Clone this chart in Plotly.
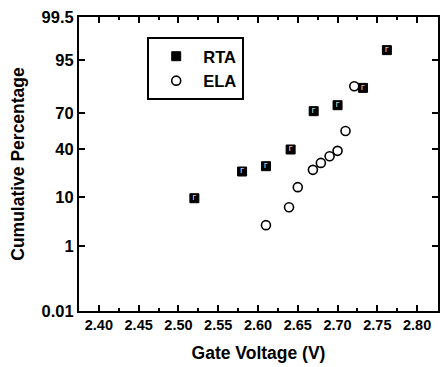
import plotly.graph_objects as go
from statistics import NormalDist

# Data
rta_v = [2.52, 2.58, 2.61, 2.641, 2.67, 2.70, 2.732, 2.762]
rta_pct = [9.6, 23.2, 26.8, 39.7, 71.2, 75.4, 85.5, 96.9]
ela_v = [2.61, 2.639, 2.65, 2.669, 2.679, 2.69, 2.70, 2.71, 2.721]
ela_pct = [3.0, 6.7, 14.3, 24.3, 29.2, 34.3, 38.6, 55.4, 86.3]
y_ticks_pct = [0.01, 1, 10, 40, 70, 95, 99.5]
y_tick_text = ["0.01", "1", "10", "40", "70", "95", "99.5"]
x_ticks = [2.40, 2.45, 2.50, 2.55, 2.60, 2.65, 2.70, 2.75, 2.80]

nd = NormalDist()
def probit(p):
    return nd.inv_cdf(p / 100.0)

font = "Liberation Sans, Arial, sans-serif"

fig = go.Figure()
fig.add_trace(go.Scatter(
    x=rta_v, y=[probit(p) for p in rta_pct], mode="markers", name="RTA",
    marker=dict(symbol="square", size=9, color="black", line=dict(color="black", width=1)),
))
fig.add_trace(go.Scatter(
    x=rta_v, y=[probit(p) for p in rta_pct], mode="text", text=["Γ"] * len(rta_v),
    textfont=dict(color="white", size=7, family=font), showlegend=False, hoverinfo="skip",
))
fig.add_trace(go.Scatter(
    x=ela_v, y=[probit(p) for p in ela_pct], mode="markers", name="ELA",
    marker=dict(symbol="circle-open", size=9, color="black", line=dict(color="black", width=1.6)),
))

fig.update_layout(
    width=441, height=367,
    margin=dict(l=79, r=1, t=17, b=56),
    paper_bgcolor="white", plot_bgcolor="white",
    font=dict(family=font, color="black", size=14),
    showlegend=True,
    legend=dict(
        x=0.19, y=0.932, xanchor="left", yanchor="top",
        bgcolor="white", bordercolor="black", borderwidth=2,
        font=dict(size=16.5, family=font, weight="bold"),
        itemwidth=44, tracegroupgap=0,
    ),
)
fig.update_xaxes(
    range=[2.375, 2.82625], tickvals=x_ticks, ticktext=[f"{v:.2f}" for v in x_ticks],
    ticks="inside", ticklen=6, tickwidth=1.5, tickcolor="black",
    showline=True, linecolor="black", linewidth=2, mirror="ticks",
    showgrid=False, zeroline=False,
    minor=dict(ticks="inside", ticklen=3, dtick=0.025, tick0=2.375, tickcolor="black", tickwidth=1.5),
    tickfont=dict(size=14.5, family=font, weight="bold"),
    title=dict(text="Gate Voltage (V)", font=dict(size=17.5, family=font, weight="bold"), standoff=14),
)
fig.update_yaxes(
    range=[probit(0.01), probit(99.5)],
    tickvals=[probit(p) for p in y_ticks_pct], ticktext=y_tick_text,
    ticks="inside", ticklen=6, tickwidth=1.5, tickcolor="black",
    showline=True, linecolor="black", linewidth=2, mirror="ticks",
    showgrid=False, zeroline=False,
    tickfont=dict(size=16.5, family=font, weight="bold"),
    title=dict(text="Cumulative Percentage", font=dict(size=17.5, family=font, weight="bold"), standoff=12),
)

fig.write_html("out.html")
